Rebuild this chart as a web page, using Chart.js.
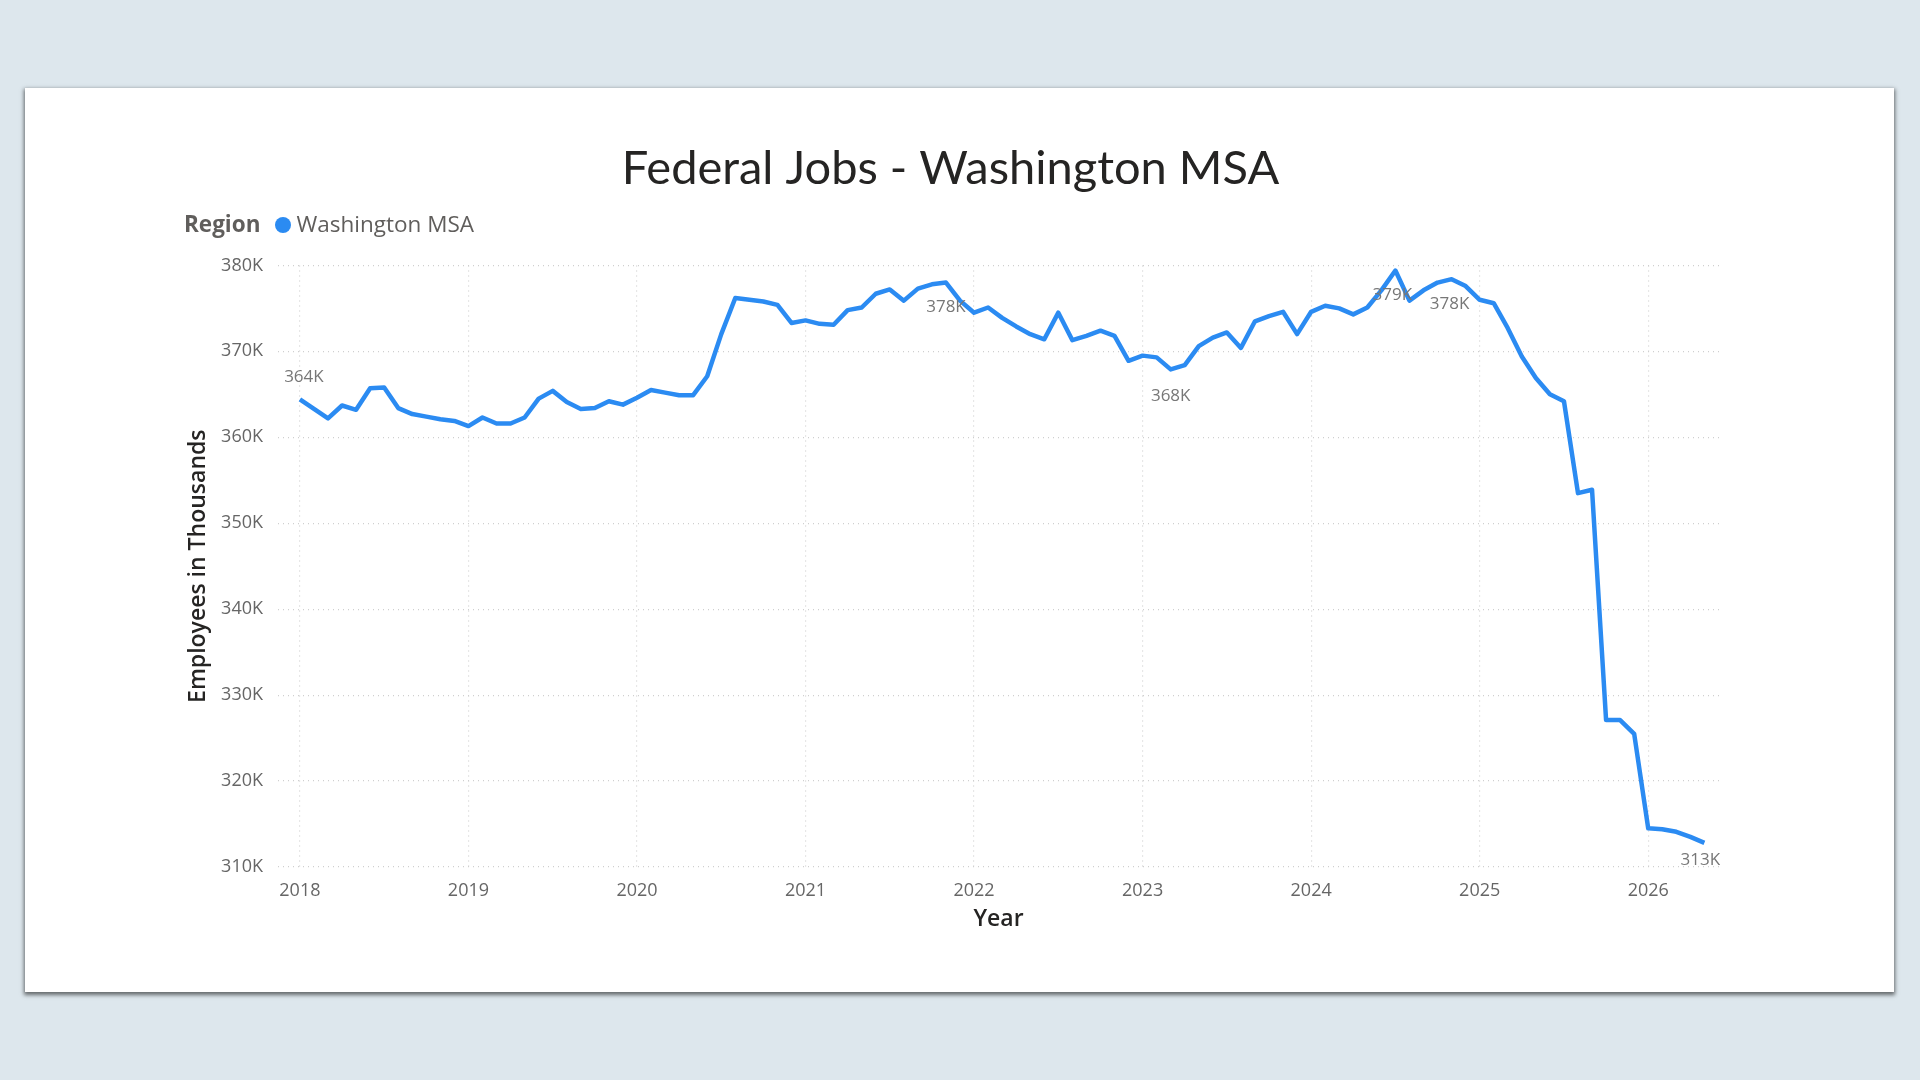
<!DOCTYPE html>
<html>
<head>
<meta charset="utf-8">
<title>Federal Jobs - Washington MSA</title>
<script src="https://cdn.jsdelivr.net/npm/chart.js@4.4.1/dist/chart.umd.min.js"></script>
<style>
    html, body {
        margin: 0;
        padding: 0;
        width: 1920px;
        height: 1080px;
        background: #dde7ed;
        overflow: hidden;
    }
    #card {
        position: absolute;
        left: 25px;
        top: 88px;
        width: 1869px;
        height: 904px;
        background: #ffffff;
        box-shadow: 0 2px 4px 1px rgba(0, 0, 0, 0.55);
    }
    #chartBox {
        position: absolute;
        left: 0;
        top: 0;
        width: 1869px;
        height: 904px;
    }
    #legend {
        position: absolute;
        left: 159px;
        top: 121px;
        height: 30px;
        line-height: 30px;
        font-family: "Open Sans", sans-serif;
        font-size: 22.5px;
        color: #605e5c;
        white-space: nowrap;
    }
    #legend .title {
        font-weight: 700;
        margin-right: 15px;
    }
    #legend .dot {
        display: inline-block;
        width: 16px;
        height: 16px;
        border-radius: 50%;
        background: #2b8bf2;
        vertical-align: -1px;
        margin-right: 5px;
    }
</style>
</head>
<body>
<div id="card">
    <div id="chartBox"><canvas id="jobsChart"></canvas></div>
    <div id="legend"><span class="title">Region</span><span class="dot"></span>Washington MSA</div>
</div>
<script>
// مصفوفات البيانات
const startYear = 2018;        // أول شهر: يناير 2018
const yearTicks = [2018, 2019, 2020, 2021, 2022, 2023, 2024, 2025, 2026];
const yTicks = [310, 320, 330, 340, 350, 360, 370, 380];

// عدد الوظائف الفيدرالية شهريا (بالآلاف)
const federalJobs = [
    364.4, 363.3, 362.2, 363.7, 363.2, 365.7, 365.8, 363.4, 362.7, 362.4, 362.1, 361.9,
    361.3, 362.3, 361.6, 361.6, 362.3, 364.5, 365.4, 364.1, 363.3, 363.4, 364.2, 363.8,
    364.6, 365.5, 365.2, 364.9, 364.9, 367.1, 372.0, 376.2, 376.0, 375.8, 375.4, 373.3,
    373.6, 373.2, 373.1, 374.8, 375.1, 376.7, 377.2, 375.9, 377.3, 377.8, 378.0, 375.9,
    374.5, 375.1, 373.9, 372.9, 372.0, 371.4, 374.5, 371.3, 371.8, 372.4, 371.8, 368.9,
    369.5, 369.3, 367.9, 368.4, 370.6, 371.6, 372.2, 370.4, 373.5, 374.1, 374.6, 372.0,
    374.6, 375.3, 375.0, 374.3, 375.1, 377.1, 379.4, 375.9, 377.1, 378.0, 378.4, 377.6,
    376.0, 375.6, 372.7, 369.4, 366.9, 365.0, 364.2, 353.5, 353.9, 327.1, 327.1, 325.5,
    314.5, 314.4, 314.1, 313.5, 312.8
];

// النقاط التي تحمل تسمية
const labelIdx = [0, 46, 62, 78, 82, 100];

document.addEventListener('DOMContentLoaded', function() {
    const points = federalJobs.map((v, i) => ({ x: startYear + i / 12, y: v }));

    // إزاحة التسميات عن النقطة (بكسل)
    const labelShift = { 0: [4, -22], 46: [0, 25], 62: [0, 27], 78: [-3, 25], 82: [-2, 25], 100: [-4, 17] };

    const pointLabels = {
        id: 'pointLabels',
        afterDatasetsDraw(chart) {
            const ctx = chart.ctx;
            const meta = chart.getDatasetMeta(0);
            ctx.save();
            ctx.font = '17px "Open Sans", sans-serif';
            ctx.fillStyle = '#777777';
            ctx.textAlign = 'center';
            ctx.textBaseline = 'middle';
            labelIdx.forEach(i => {
                const el = meta.data[i];
                const s = labelShift[i] || [0, -20];
                ctx.fillText(Math.round(federalJobs[i]) + 'K', el.x + s[0], el.y + s[1]);
            });
            ctx.restore();
        }
    };

    const ctx = document.getElementById('jobsChart').getContext('2d');
    new Chart(ctx, {
        type: 'line',
        data: {
            datasets: [{
                label: 'Washington MSA',
                data: points,
                borderColor: '#2b8bf2',
                backgroundColor: '#2b8bf2',
                borderWidth: 4.5,
                pointRadius: 0,
                pointHoverRadius: 0,
                tension: 0,
                borderJoinStyle: 'round',
                fill: false
            }]
        },
        options: {
            responsive: true,
            maintainAspectRatio: false,
            animation: false,
            layout: {
                padding: { left: 157, right: 175, top: 0, bottom: 59 }
            },
            plugins: {
                legend: { display: false },
                tooltip: { enabled: false },
                title: {
                    display: true,
                    text: 'Federal Jobs - Washington MSA',
                    color: '#252423',
                    font: { family: 'Lato', size: 47, weight: 'normal', lineHeight: 1.2 },
                    padding: { top: 53, bottom: 68 }
                }
            },
            scales: {
                x: {
                    type: 'linear',
                    min: 2017.87,
                    max: 2026.42,
                    afterBuildTicks: axis => { axis.ticks = yearTicks.map(v => ({ value: v })); },
                    afterFit: axis => { axis.height = 66; },
                    ticks: {
                        color: '#666666',
                        font: { family: 'Open Sans', size: 18 },
                        padding: 13,
                        maxRotation: 0,
                        callback: v => String(v)
                    },
                    grid: {
                        color: '#cfcfcf',
                        lineWidth: 1.2,
                        drawTicks: false
                    },
                    border: { display: false, dash: [1, 4] },
                    title: {
                        display: true,
                        text: 'Year',
                        color: '#252423',
                        font: { family: 'Open Sans', size: 23, weight: '600', lineHeight: 1.2 },
                        padding: { top: 0, bottom: 0 }
                    }
                },
                y: {
                    min: 310,
                    max: 380,
                    afterBuildTicks: axis => { axis.ticks = yTicks.map(v => ({ value: v })); },
                    afterFit: axis => { axis.width = 96; },
                    ticks: {
                        color: '#666666',
                        font: { family: 'Open Sans', size: 18 },
                        padding: 15,
                        callback: v => v + 'K'
                    },
                    grid: {
                        color: '#cfcfcf',
                        lineWidth: 1.2,
                        drawTicks: false
                    },
                    border: { display: false, dash: [1, 4] },
                    title: {
                        display: true,
                        text: 'Employees in Thousands',
                        color: '#252423',
                        font: { family: 'Open Sans', size: 23, weight: '600', lineHeight: 1.2 },
                        padding: { top: 3, bottom: 0 }
                    }
                }
            }
        },
        plugins: [pointLabels]
    });
});
</script>
</body>
</html>
